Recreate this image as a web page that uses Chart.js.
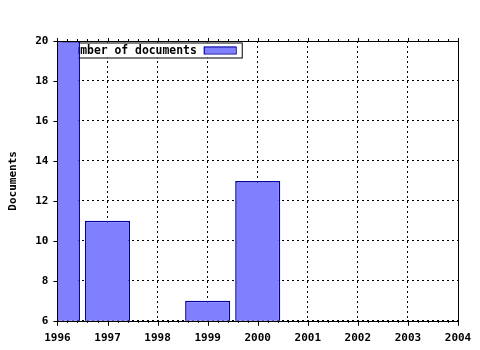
<!DOCTYPE html>
<html>
<head>
<meta charset="utf-8">
<script src="https://cdn.jsdelivr.net/npm/chart.js@4"></script>
<style>
  html, body { margin: 0; padding: 0; background: #fff; }
  #wrap { width: 480px; height: 350px; }
</style>
</head>
<body>
<div id="wrap"><canvas id="docsChart" width="480" height="350"></canvas></div>
<script>
const years = ['1996', '1997', '1998', '1999', '2000', '2001', '2002', '2003', '2004'];
const documents = [20, 11, null, 7, 13, null, null, null, null];
const yTicks = [6, 8, 10, 12, 14, 16, 18, 20];

const COLORS = {
  fill: '#8080ff',
  edge: '#00009a',
  ink: '#000000'
};
const FONT = 'bold 11.4px "DejaVu Sans Mono", monospace';
const tickFont = { family: '"DejaVu Sans Mono", monospace', size: 11, weight: 'bold' };

// frame, tick marks and the boxed legend (legend sits under the bars)
const framePlugin = {
  id: 'frame',
  beforeDatasetsDraw(chart) {
    const { ctx, chartArea: a } = chart;
    const ds = chart.data.datasets[0];
    ctx.save();
    ctx.font = FONT;
    const text = ds.label;
    const tw = ctx.measureText(text).width;
    const left = a.left + 5, top = a.top + 1.5, h = 15;
    const right = left + tw + 49;
    ctx.fillStyle = '#fff';
    ctx.fillRect(left, top, right - left, h);
    ctx.strokeStyle = COLORS.ink;
    ctx.lineWidth = 1;
    ctx.strokeRect(left + 0.5, top + 0.5, right - left, h);
    ctx.fillStyle = COLORS.ink;
    ctx.textBaseline = 'middle';
    ctx.fillText(text, left + 4, top + h / 2 + 1);
    ctx.fillStyle = ds.backgroundColor;
    ctx.fillRect(right - 38, top + 4, 32, 7);
    ctx.strokeStyle = ds.borderColor;
    ctx.strokeRect(right - 38 + 0.5, top + 4.5, 32, 7);
    ctx.restore();
  },
  afterDraw(chart) {
    const { ctx, chartArea: a, scales } = chart;
    ctx.save();
    ctx.strokeStyle = COLORS.ink;
    ctx.lineWidth = 1;
    ctx.strokeRect(Math.round(a.left) + 0.5, Math.round(a.top) + 0.5,
      Math.round(a.right - a.left), Math.round(a.bottom - a.top));
    ctx.beginPath();
    const x = scales.x, y = scales.y;
    for (let i = 0; i < years.length; i++) {
      const px = Math.round(x.getPixelForTick(i)) + 0.5;
      ctx.moveTo(px, a.bottom); ctx.lineTo(px, a.bottom + 5);
      ctx.moveTo(px, a.top); ctx.lineTo(px, a.top - 3);
      if (i < years.length - 1) {
        const step = (x.getPixelForTick(i + 1) - x.getPixelForTick(i)) / 5;
        for (let k = 1; k < 5; k++) {
          const mx = Math.round(x.getPixelForTick(i) + step * k) + 0.5;
          ctx.moveTo(mx, a.bottom); ctx.lineTo(mx, a.bottom + 2);
          ctx.moveTo(mx, a.top); ctx.lineTo(mx, a.top - 2);
        }
      }
    }
    yTicks.forEach(v => {
      const py = Math.round(y.getPixelForValue(v)) + 0.5;
      ctx.moveTo(a.left - 4, py); ctx.lineTo(a.left, py);
    });
    ctx.stroke();
    ctx.restore();
  }
};

new Chart(document.getElementById('docsChart').getContext('2d'), {
  type: 'bar',
  data: {
    labels: years,
    datasets: [{
      label: 'Number of documents',
      data: documents,
      backgroundColor: COLORS.fill,
      borderColor: COLORS.edge,
      borderWidth: 1.5,
      barPercentage: 0.9,
      categoryPercentage: 1
    }]
  },
  options: {
    responsive: false,
    animation: false,
    devicePixelRatio: 1,
    layout: { padding: { top: 41, right: 0, left: 4, bottom: -6 } },
    plugins: {
      legend: { display: false },
      tooltip: { enabled: false }
    },
    scales: {
      x: {
        offset: false,
        afterFit(scale) { scale.paddingRight = 22; },
        grid: { color: COLORS.ink, drawTicks: false, lineWidth: 1, offset: false },
        border: { display: false, dash: [2, 3] },
        ticks: { color: COLORS.ink, font: tickFont, padding: 11, maxRotation: 0, autoSkip: false }
      },
      y: {
        min: 6,
        max: 20,
        grid: { color: COLORS.ink, drawTicks: false, lineWidth: 1 },
        border: { display: false, dash: [2, 3] },
        ticks: { color: COLORS.ink, stepSize: 2, font: tickFont, padding: 9 },
        title: {
          display: true,
          text: 'Documents',
          color: COLORS.ink,
          font: tickFont,
          padding: { top: 3, bottom: 6 }
        }
      }
    }
  },
  plugins: [framePlugin]
});
</script>
</body>
</html>
